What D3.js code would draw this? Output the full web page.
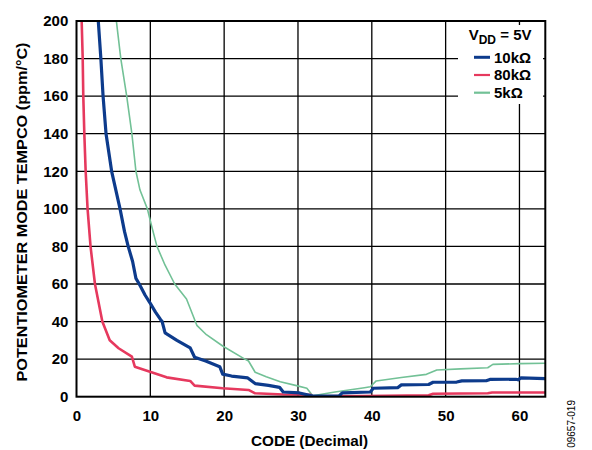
<!DOCTYPE html>
<html><head><meta charset="utf-8">
<script src="https://cdn.jsdelivr.net/npm/d3@7"></script>
<style>body{margin:0;background:#fff;}svg{display:block;font-family:"Liberation Sans",Arial,sans-serif;font-weight:bold;}</style>
</head><body><svg id="c" width="592" height="450"></svg>
<script>
const xTicks = [0,10,20,30,40,50,60];
const yTicks = [0,20,40,60,80,100,120,140,160,180,200];
const seriesNames = ["10kΩ","80kΩ","5kΩ"];
const seriesColors = ["#0d3b8c","#e6395e","#72c196"];
const seriesWidths = [3.2,2.6,1.6];
const code10k = [2.95,3.3,3.6,4.0,4.76,5.9,6.5,7.0,7.6,8.05,8.5,9.3,9.95,10.7,11.4,11.6,12.0,13.6,15.4,16.0,17.5,19.4,19.8,21,23.2,24.2,26,27.5,28,30.2,32,35.6,36,39.8,40.2,43.5,44,47.7,48.3,51.5,52.2,55.5,56,59.5,59.8,60.2,63.5];
const val10k  = [200,180,160,140,120,100,88,80,72,63,60,54,50,45,41,40,34,30,26,21,19,16,12,11,10,7,6,5,2.5,2,0.3,0.5,2,2.5,4.5,4.8,6.3,6.5,7.7,7.8,8.4,8.5,9.2,9.3,9.0,10,9.6];
const code80k = [0.7,0.84,0.92,1.06,1.24,1.5,1.9,2.5,3.5,4.5,5.7,7.5,7.9,9.95,12.2,15.4,16,19.8,23.3,24.2,28,31.7,32,38.8,47.7,48.3,55.7,56.3,63.5];
const val80k  = [200,180,160,140,120,100,80,60,40,30,25.8,21.3,16,13.3,10.3,8.4,5.9,4.5,3.6,1.8,1.2,1,0.2,0.3,0.8,1.6,1.8,2.2,2.2];
const code5k = [5.4,6.0,6.8,7.5,8.05,8.6,9.6,10.2,10.9,12.0,13.3,14.9,16.3,17.6,19.8,22.8,23.3,24.2,25.7,27.6,29.8,31.2,32,35,39,39.8,40.6,44,47.4,48.8,52,55.7,56.4,60,63.5];
const val5k  = [200,180,160,140,120,110,100,90.5,80,70,60,52,38,33,27,20,19,13,10.6,8,5.9,4.5,0.5,2.5,4.8,5.3,8.4,10.2,11.9,14.2,14.8,15.4,17.2,17.6,17.8];

const svg = d3.select("#c");
const L=76.5,R=545.3,T=21,B=396.7;
const x = d3.scaleLinear().domain([0,63.5]).range([L,R]);
const y = d3.scaleLinear().domain([0,200]).range([B,T]);
const FONT = "Liberation Sans, Arial, sans-serif";

// grid
svg.append("g").selectAll("line").data(xTicks.slice(1)).join("line")
  .attr("x1",d=>x(d)).attr("x2",d=>x(d)).attr("y1",T).attr("y2",B)
  .attr("stroke","#000").attr("stroke-width",1.3);
svg.append("g").selectAll("line").data(yTicks.slice(1,-1)).join("line")
  .attr("x1",L).attr("x2",R).attr("y1",d=>y(d)).attr("y2",d=>y(d))
  .attr("stroke","#000").attr("stroke-width",1.3);

// legend background
svg.append("rect").attr("x",458).attr("y",25).attr("width",85).attr("height",79).attr("fill","#fff");

// clip
svg.append("clipPath").attr("id","clip").append("rect").attr("x",L).attr("y",T).attr("width",R-L).attr("height",B-T);

const series = [[code10k,val10k],[code80k,val80k],[code5k,val5k]];
const line = d3.line().x(d=>x(d[0])).y(d=>y(d[1]));
[2,1,0].forEach(i=>{
  const pts = series[i][0].map((c,j)=>[c,series[i][1][j]]);
  svg.append("path").attr("d",line(pts)).attr("fill","none")
    .attr("stroke",seriesColors[i]).attr("stroke-width",seriesWidths[i])
    .attr("stroke-linejoin","round").attr("clip-path","url(#clip)");
});

// frame
svg.append("rect").attr("x",L).attr("y",T).attr("width",R-L).attr("height",B-T)
  .attr("fill","none").attr("stroke","#000").attr("stroke-width",2);

// axes labels
const xAxis = d3.axisBottom(x).tickValues(xTicks).tickSize(0).tickPadding(13.3);
const gx = svg.append("g").attr("transform",`translate(0,${B})`).call(xAxis);
gx.select(".domain").remove();
gx.selectAll("text").attr("font-size",15).attr("font-weight","bold").attr("fill","#000").attr("font-family",FONT);
const yAxis = d3.axisLeft(y).tickValues(yTicks).tickSize(0).tickPadding(8.2);
const gy = svg.append("g").attr("transform",`translate(${L},0)`).call(yAxis);
gy.select(".domain").remove();
gy.selectAll("text").attr("font-size",15).attr("font-weight","bold").attr("fill","#000").attr("font-family",FONT);

// titles
svg.append("text").attr("x",309.5).attr("y",446.3).attr("text-anchor","middle").attr("font-size",15)
  .attr("textLength",117).attr("lengthAdjust","spacingAndGlyphs").text("CODE (Decimal)");
svg.append("text").attr("transform","translate(27,212) rotate(-90)").attr("text-anchor","middle").attr("font-size",15)
  .attr("textLength",339).attr("lengthAdjust","spacingAndGlyphs").text("POTENTIOMETER MODE TEMPCO (ppm/°C)");

// legend
const lg = svg.append("g");
const vt = lg.append("text").attr("x",531.5).attr("y",40).attr("text-anchor","end").attr("font-size",15);
vt.append("tspan").text("V");
vt.append("tspan").attr("dy",4).attr("font-size",12).text("DD");
vt.append("tspan").attr("dy",-4).text(" = 5V");
const rowsY = [57.3,75,92.7];
seriesNames.forEach((n,i)=>{
  lg.append("line").attr("x1",474).attr("x2",490).attr("y1",rowsY[i]).attr("y2",rowsY[i])
    .attr("stroke",seriesColors[i]).attr("stroke-width",i===0?3:2.2);
  lg.append("text").attr("x",494).attr("y",rowsY[i]+5.4).attr("font-size",15).text(n);
});

// figure id
svg.append("text").attr("transform","translate(574.5,400) rotate(-90)").attr("text-anchor","end")
  .attr("font-size",10).attr("font-weight","normal").text("09657-019");
</script></body></html>
